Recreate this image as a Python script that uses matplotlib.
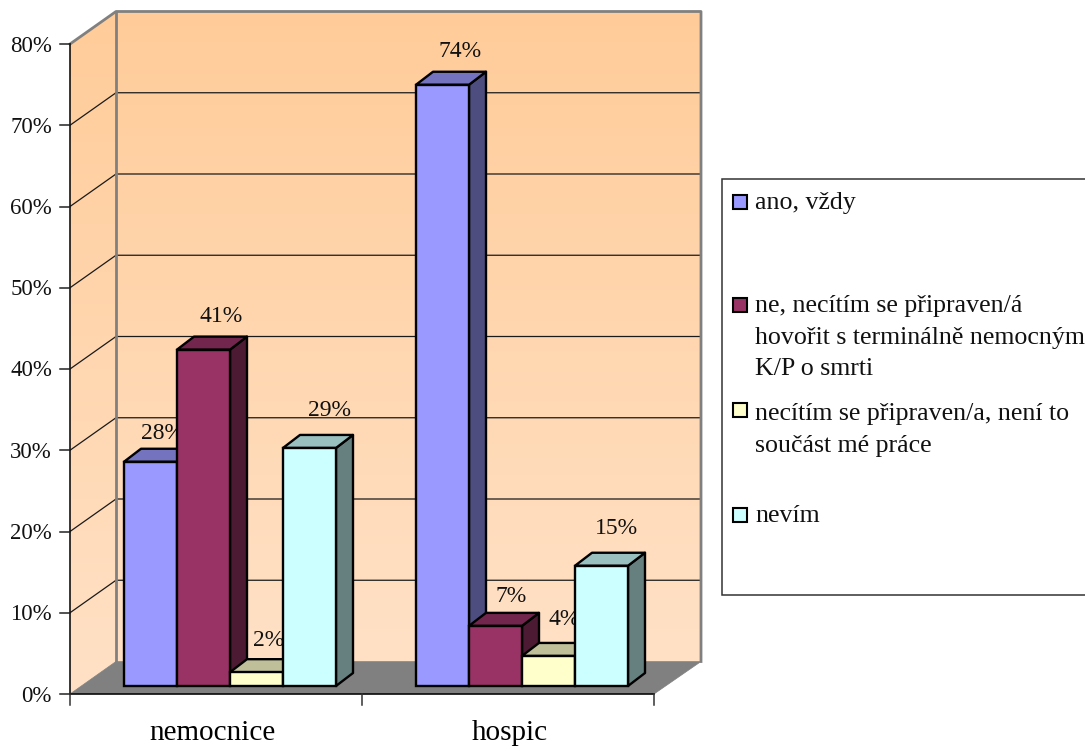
import numpy as np
import matplotlib
matplotlib.use("Agg")
import matplotlib.pyplot as plt
from matplotlib.patches import Polygon, Rectangle

plt.rcParams['font.family'] = ['Liberation Serif', 'DejaVu Serif']

categories = ['nemocnice', 'hospic']
series = ['ano, vždy',
          'ne, necítím se připraven/á\nhovořit s terminálně nemocným\nK/P o smrti',
          'necítím se připraven/a, není to\nsoučást mé práce',
          'nevím']
ano = [27.6, 74.0]
ne = [41.4, 7.4]
necitim = [1.7, 3.7]
nevim = [29.3, 14.8]
y_ticks = [0, 10, 20, 30, 40, 50, 60, 70, 80]

front_col = ['#9999FF', '#993366', '#FFFFCC', '#CCFFFF']
top_col = ['#7373BF', '#73264D', '#BFBF99', '#99BFBF']
side_col = ['#4D4D80', '#4D1A33', '#808066', '#668080']

fig = plt.figure(figsize=(10.85, 7.49), dpi=100)
ax = fig.add_axes([0, 0, 1, 1])
ax.set_xlim(0, 1085)
ax.set_ylim(749, 0)
ax.axis('off')

# plot box in pixels
x0, x1 = 70, 654
y0, scale = 694, 650 / 80
ddx, ddy = 46, -32.5
bar_base = 686
bar_w = 53
bar_dx, bar_dy = 17, -13
group_start = [124, 416]


def py(v):
    return y0 - v * scale


grad = np.linspace(0, 1, 256).reshape(-1, 1)
cmap = matplotlib.colors.LinearSegmentedColormap.from_list('wall', ['#FFCC99', '#FFE1C6'])

# back wall and side wall with the gradient
back = Polygon([(x0 + ddx, py(80) + ddy), (x1 + ddx + 1, py(80) + ddy), (x1 + ddx + 1, y0 + ddy), (x0 + ddx, y0 + ddy)],
               closed=True, fc='none', ec='none')
side = Polygon([(x0, py(80)), (x0 + ddx, py(80) + ddy), (x0 + ddx, y0 + ddy), (x0, y0)],
               closed=True, fc='none', ec='none')
ax.add_patch(back)
ax.add_patch(side)
im = ax.imshow(grad, extent=(x0 + ddx, x1 + ddx + 1, y0 + ddy, py(80) + ddy), cmap=cmap, aspect='auto', zorder=1)
im.set_clip_path(back)
im2 = ax.imshow(grad, extent=(x0, x0 + ddx, y0, py(80) + ddy), cmap=cmap, aspect='auto', zorder=1)
im2.set_clip_path(side)
ax.set_xlim(0, 1085)
ax.set_ylim(749, 0)

# gridlines
for t in y_ticks[1:-1]:
    ax.plot([x0, x0 + ddx, x1 + ddx + 1], [py(t), py(t) + ddy, py(t) + ddy], color='#1a1a1a', lw=0.9, zorder=2)

# wall borders
ax.plot([x0, x0 + ddx, x1 + ddx + 1, x1 + ddx + 1], [py(80), py(80) + ddy, py(80) + ddy, y0 + ddy],
        color='#808080', lw=2, zorder=2)
ax.plot([x0 + ddx, x0 + ddx], [py(80) + ddy, y0 + ddy], color='#808080', lw=2, zorder=2)

# floor
ax.add_patch(Polygon([(x0, y0), (x0 + ddx, y0 + ddy), (x1 + ddx + 1, y0 + ddy), (x1, y0)],
                     closed=True, fc='#808080', ec='#808080', lw=0.5, zorder=3))

# axes lines and ticks
ax.plot([x0, x0], [py(80), y0], color='black', lw=1.1, zorder=4)
ax.plot([x0, x1], [y0, y0], color='black', lw=1.1, zorder=4)
for t in y_ticks:
    ax.plot([x0 - 10, x0], [py(t), py(t)], color='#222222', lw=1.1, zorder=4)
    ax.text(52, py(t) + 2, '%d%%' % t, ha='right', va='center', fontsize=16.5, color='#111111')
for i in range(3):
    tx = x0 + (x1 - x0) * i / 2
    ax.plot([tx, tx], [y0, y0 + 11], color='#333333', lw=1.1, zorder=4)
cat_nudge = [-4, 2]
for i, c in enumerate(categories):
    tx = x0 + (x1 - x0) * (i + 0.5) / 2
    ax.text(tx + cat_nudge[i], 733, c, ha='center', va='center', fontsize=21, color='black')

# bars
label_nudge = [[(12, -28), (18, -33), (12, -32), (20, -37)],
               [(18, -33), (16, -29), (16, -36), (15, -37)]]
z = 5
values = [ano, ne, necitim, nevim]
for g in range(2):
    for s in range(4):
        v = values[s][g]
        xl = group_start[g] + s * bar_w
        xr = xl + bar_w
        yt = bar_base - v * scale
        yb = bar_base
        ax.add_patch(Polygon([(xr, yt), (xr + bar_dx, yt + bar_dy), (xr + bar_dx, yb + bar_dy), (xr, yb)],
                             closed=True, fc=side_col[s], ec='black', lw=1.7, zorder=z, joinstyle='round'))
        ax.add_patch(Polygon([(xl, yt), (xl + bar_dx, yt + bar_dy), (xr + bar_dx, yt + bar_dy), (xr, yt)],
                             closed=True, fc=top_col[s], ec='black', lw=1.7, zorder=z, joinstyle='round'))
        ax.add_patch(Rectangle((xl, yt), bar_w, yb - yt, fc=front_col[s], ec='black', lw=1.7, zorder=z + 1))
        nx, ny = label_nudge[g][s]
        ax.text(xl + bar_w / 2 + nx, yt + ny, '%.0f%%' % v, ha='center', va='center',
                fontsize=17, color='#111111', zorder=z + 2)
        z += 3

# legend box
ax.add_patch(Rectangle((722, 179), 370, 416, fc='white', ec='#333333', lw=1.1, clip_on=True, zorder=2))
legend_y = [202, 305, 410, 515]
legend_text_y = [192, 295, 403, 505]
for s, name in enumerate(series):
    ax.add_patch(Rectangle((733, legend_y[s] - 7), 14, 14, fc=front_col[s], ec='black', lw=1.5, zorder=3))
    ax.text(755, legend_text_y[s], name, ha='left', va='top', fontsize=18.6, color='#111111',
            linespacing=1.56, zorder=3)

fig.savefig('out.png', dpi=100)
